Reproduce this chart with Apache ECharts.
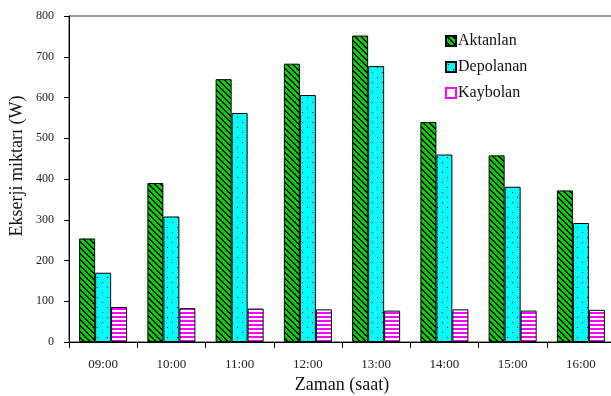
<!DOCTYPE html>
<html><head><meta charset="utf-8">
<script src="https://cdn.jsdelivr.net/npm/echarts@6/dist/echarts.min.js"></script>
<style>html,body{margin:0;padding:0;background:#fff}#c{width:611px;height:396px}</style>
</head><body><div id="c"></div>
<script>
const categories = ['09:00','10:00','11:00','12:00','13:00','14:00','15:00','16:00'];
const aktanlan = [254, 390, 645, 683, 752, 540, 458, 372];
const depolanan = [170, 308, 562, 606, 677, 460, 381, 292];
const kaybolan = [86, 83, 82, 80, 77, 80, 77, 79];
const seriesNames = ['Aktanlan', 'Depolanan', 'Kaybolan'];

function makePattern(w, h, fn) {
  const c = document.createElement('canvas');
  c.width = w; c.height = h;
  const ctx = c.getContext('2d');
  const img = ctx.createImageData(w, h);
  for (let y = 0; y < h; y++) for (let x = 0; x < w; x++) {
    const col = fn(x, y);
    const i = (y * w + x) * 4;
    img.data[i] = col[0]; img.data[i+1] = col[1]; img.data[i+2] = col[2]; img.data[i+3] = 255;
  }
  ctx.putImageData(img, 0, 0);
  return c;
}
const greenPat = makePattern(6, 6, (x, y) => (((x - y) % 6 + 6) % 6) < 2 ? [0,0,0] : [0,204,0]);
const cyanPat = makePattern(10, 10, (x, y) => ((x === 2 && y === 2) || (x === 7 && y === 7)) ? [0,0,0] : [0,255,255]);
const pinkPat = makePattern(4, 4, (x, y) => y < 2 ? [255,0,255] : [255,255,255]);
const pats = [greenPat, cyanPat, pinkPat];
const datas = [aktanlan, depolanan, kaybolan];

const chart = echarts.init(document.getElementById('c'));
chart.setOption({
  animation: false,
  textStyle: { fontFamily: 'Liberation Serif' },
  grid: { left: 69, right: -4, top: 16, bottom: 54, show: true, borderColor: '#333', borderWidth: 1,
          containLabel: false, outerBoundsMode: 'none' },
  legend: {
    orient: 'vertical', left: 445, top: 33, padding: 0, itemGap: 10, itemWidth: 10, itemHeight: 10,
    icon: 'rect',
    textStyle: { fontFamily: 'Liberation Serif', fontSize: 16, lineHeight: 16, color: '#111', padding: [0,0,0,-3] },
    data: [
      { name: 'Aktanlan' },
      { name: 'Depolanan' },
      { name: 'Kaybolan', itemStyle: { color: '#fff', borderColor: '#ff00ff', borderWidth: 2 } }
    ]
  },
  graphic: [{
    type: 'text', x: 17, y: 166, rotation: Math.PI / 2,
    style: { text: 'Ekserji miktarı (W)', font: '18px "Liberation Serif"', fill: '#111',
             align: 'center', verticalAlign: 'middle' }
  }],
  xAxis: {
    type: 'category', data: categories,
    name: 'Zaman (saat)', nameLocation: 'middle', nameGap: 33,
    nameTextStyle: { fontFamily: 'Liberation Serif', fontSize: 18, color: '#111' },
    axisLine: { lineStyle: { color: '#000' } },
    axisTick: { show: true, length: 6, lineStyle: { color: '#000' } },
    axisLabel: { fontFamily: 'Liberation Serif', fontSize: 13, color: '#222', margin: 16 }
  },
  yAxis: {
    type: 'value', min: 0, max: 800, interval: 100,
    axisLine: { show: true, lineStyle: { color: '#000' } },
    axisTick: { show: true, length: 5, lineStyle: { color: '#000' } },
    splitLine: { show: false },
    axisLabel: { fontFamily: 'Liberation Serif', fontSize: 12, color: '#222', margin: 15 }
  },
  series: seriesNames.map((n, i) => ({
    name: n, type: 'bar', data: datas[i],
    barWidth: 16, barGap: '0%',
    itemStyle: { color: { image: pats[i], repeat: 'repeat' }, borderColor: '#000', borderWidth: 1 }
  }))
});
</script></body></html>
